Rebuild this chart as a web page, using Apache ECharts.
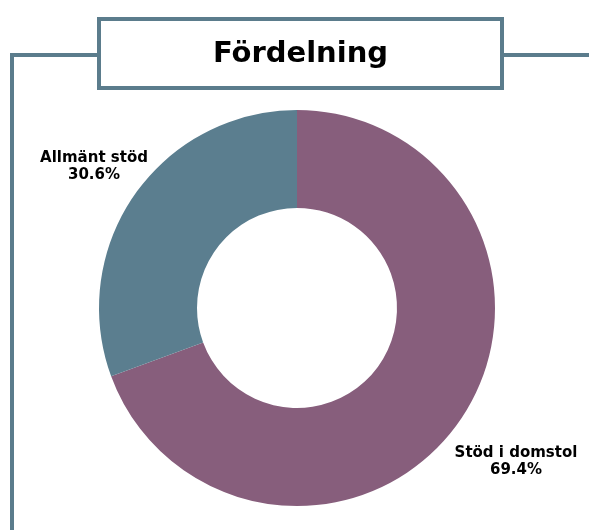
<!DOCTYPE html>
<html><head><meta charset="utf-8">
<script src="https://cdn.jsdelivr.net/npm/echarts@6/dist/echarts.min.js"></script>
<style>html,body{margin:0;padding:0;background:#fff}#c{width:589px;height:530px}</style>
</head><body><div id="c"></div>
<script>
const categories = ['Stöd i domstol', 'Allmänt stöd'];
const values = [69.4, 30.6];
const colors = ['#875e7c', '#5b7e8f'];
const titleText = 'Fördelning';

const chart = echarts.init(document.getElementById('c'));
const frameColor = '#5b7c8c';
const labelPos = [[516, 462], [94, 167]];
chart.setOption({
  animation: false,
  graphic: [
    {type: 'polyline', shape: {points: [[12, 530], [12, 55], [100, 55]]}, style: {stroke: frameColor, lineWidth: 4, fill: null}},
    {type: 'line', shape: {x1: 502, y1: 55, x2: 589, y2: 55}, style: {stroke: frameColor, lineWidth: 4}},
    {type: 'rect', shape: {x: 99, y: 19, width: 403, height: 69}, style: {stroke: frameColor, lineWidth: 4, fill: '#fff'}},
    {type: 'text', x: 300.5, y: 54, style: {text: titleText, font: 'bold 29px "DejaVu Sans"', fill: '#000', align: 'center', verticalAlign: 'middle'}}
  ],
  series: [{
    type: 'pie',
    center: [297, 308],
    radius: [100, 198],
    startAngle: 90,
    clockwise: true,
    data: categories.map((n, i) => ({name: n, value: values[i], itemStyle: {color: colors[i]}})),
    label: {
      show: true, position: 'outside',
      formatter: p => p.name + '\n' + p.value.toFixed(1) + '%',
      fontFamily: '"DejaVu Sans"', fontWeight: 'bold', fontSize: 15, color: '#000',
      align: 'center', lineHeight: 17, overflow: 'none', width: 200
    },
    labelLine: {show: false},
    labelLayout: p => ({x: labelPos[p.dataIndex][0], y: labelPos[p.dataIndex][1], align: 'center', verticalAlign: 'middle'}),
    emphasis: {disabled: true}
  }]
});
</script></body></html>
